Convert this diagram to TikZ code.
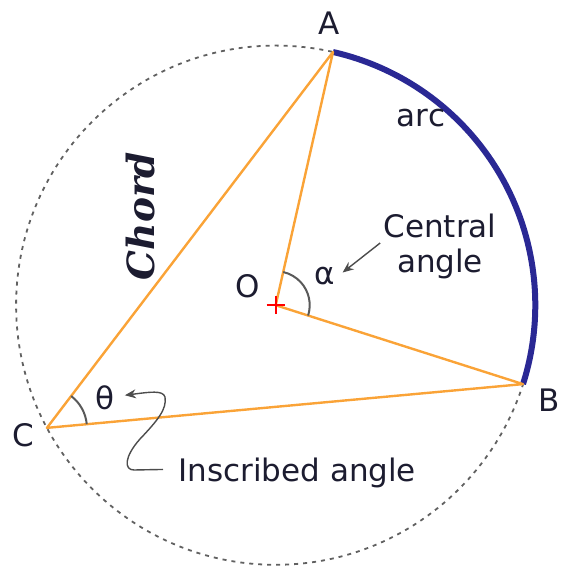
\documentclass[tikz,border=0pt]{standalone}
\usepackage{fontspec}
\setmainfont{DejaVu Sans}
\newfontfamily\chordfont{DejaVu Serif}
\usetikzlibrary{arrows.meta,calc}
\definecolor{chordorange}{RGB}{250,163,55}
\definecolor{arcblue}{RGB}{42,40,148}
\definecolor{inktext}{RGB}{28,28,48}

\begin{document}
\begin{tikzpicture}[
    x=0.5pt, y=0.5pt,
    >={Stealth[length=5.5pt,width=4.5pt]},
    lbl/.style={font=\fontsize{15.5}{17.5}\selectfont, text=inktext, inner sep=0pt},
    seg/.style={chordorange, line width=1.2pt, line join=round},
    angarc/.style={black!65, line width=1pt},
    pointer/.style={->, black!70, line width=0.7pt},
  ]

  \useasboundingbox (0,0) rectangle (562,572);

  \def\R{259.6}

  % centre and the three points on the circle
  \coordinate (O) at (275.7,266.8);
  \coordinate (A) at ($(O)+(77.25:\R)$);
  \coordinate (B) at ($(O)+(-17.7:\R)$);
  \coordinate (C) at ($(O)+(208.2:\R)$);

  % circle and the arc AB
  \draw[black!62, line width=0.9pt, dash pattern=on 2pt off 2.5pt] (O) circle (\R);
  \draw[arcblue, line width=3pt] (A) arc (77.25:-17.7:\R);

  % chords and radii
  \draw[seg] (A) -- (O) -- (B) -- (C) -- cycle;

  % angle marks
  \draw[angarc] ($(O)+(-17.7:34)$) arc (-17.7:77.25:34);
  \draw[angarc] ($(C)+(5.25:40)$) arc (5.25:52.7:40);

  % centre mark
  \draw[red, line width=1pt] ($(O)+(-9,0)$) -- ($(O)+(9,0)$)
    ($(O)+(0,-9)$) -- ($(O)+(0,9)$);

  % point labels
  \node[lbl, anchor=base] (lA) at (329,537) {A};
  \node[lbl, anchor=base] (lB) at (549,160) {B};
  \node[lbl, anchor=base] (lC) at (23,125) {C};
  \node[lbl, anchor=base] (lO) at (248,274) {O};
  \node[lbl, anchor=base] (alph) at (325,287) {α};
  \node[lbl, anchor=base] (thet) at (105,162) {θ};
  \node[lbl, anchor=base] (arclbl) at (421,445) {arc};
  \node[rotate=90, inner sep=0pt, text=inktext,
    font=\chordfont\bfseries\itshape\fontsize{18.75}{20}\selectfont] (chord) at (141,356) {Chord};

  % angle names
  \node[lbl, align=center] (cent) at (440,326) {Central\\angle};
  \node[lbl, anchor=base west] (insc) at (178,90) {Inscribed angle};

  \draw[pointer] ($(cent.west)+(-3,3)$) -- ($(alph.east)+(7,4)$);
  \draw[pointer] ($(insc.west)+(-15,4)$) -- (134,102)
    .. controls (124,102) and (124,115) .. (140,133)
    .. controls (158,152) and (167,163) .. (165,175)
    .. controls (163,182) and (150,180) .. ($(thet.east)+(10,3)$);

\end{tikzpicture}
\end{document}
